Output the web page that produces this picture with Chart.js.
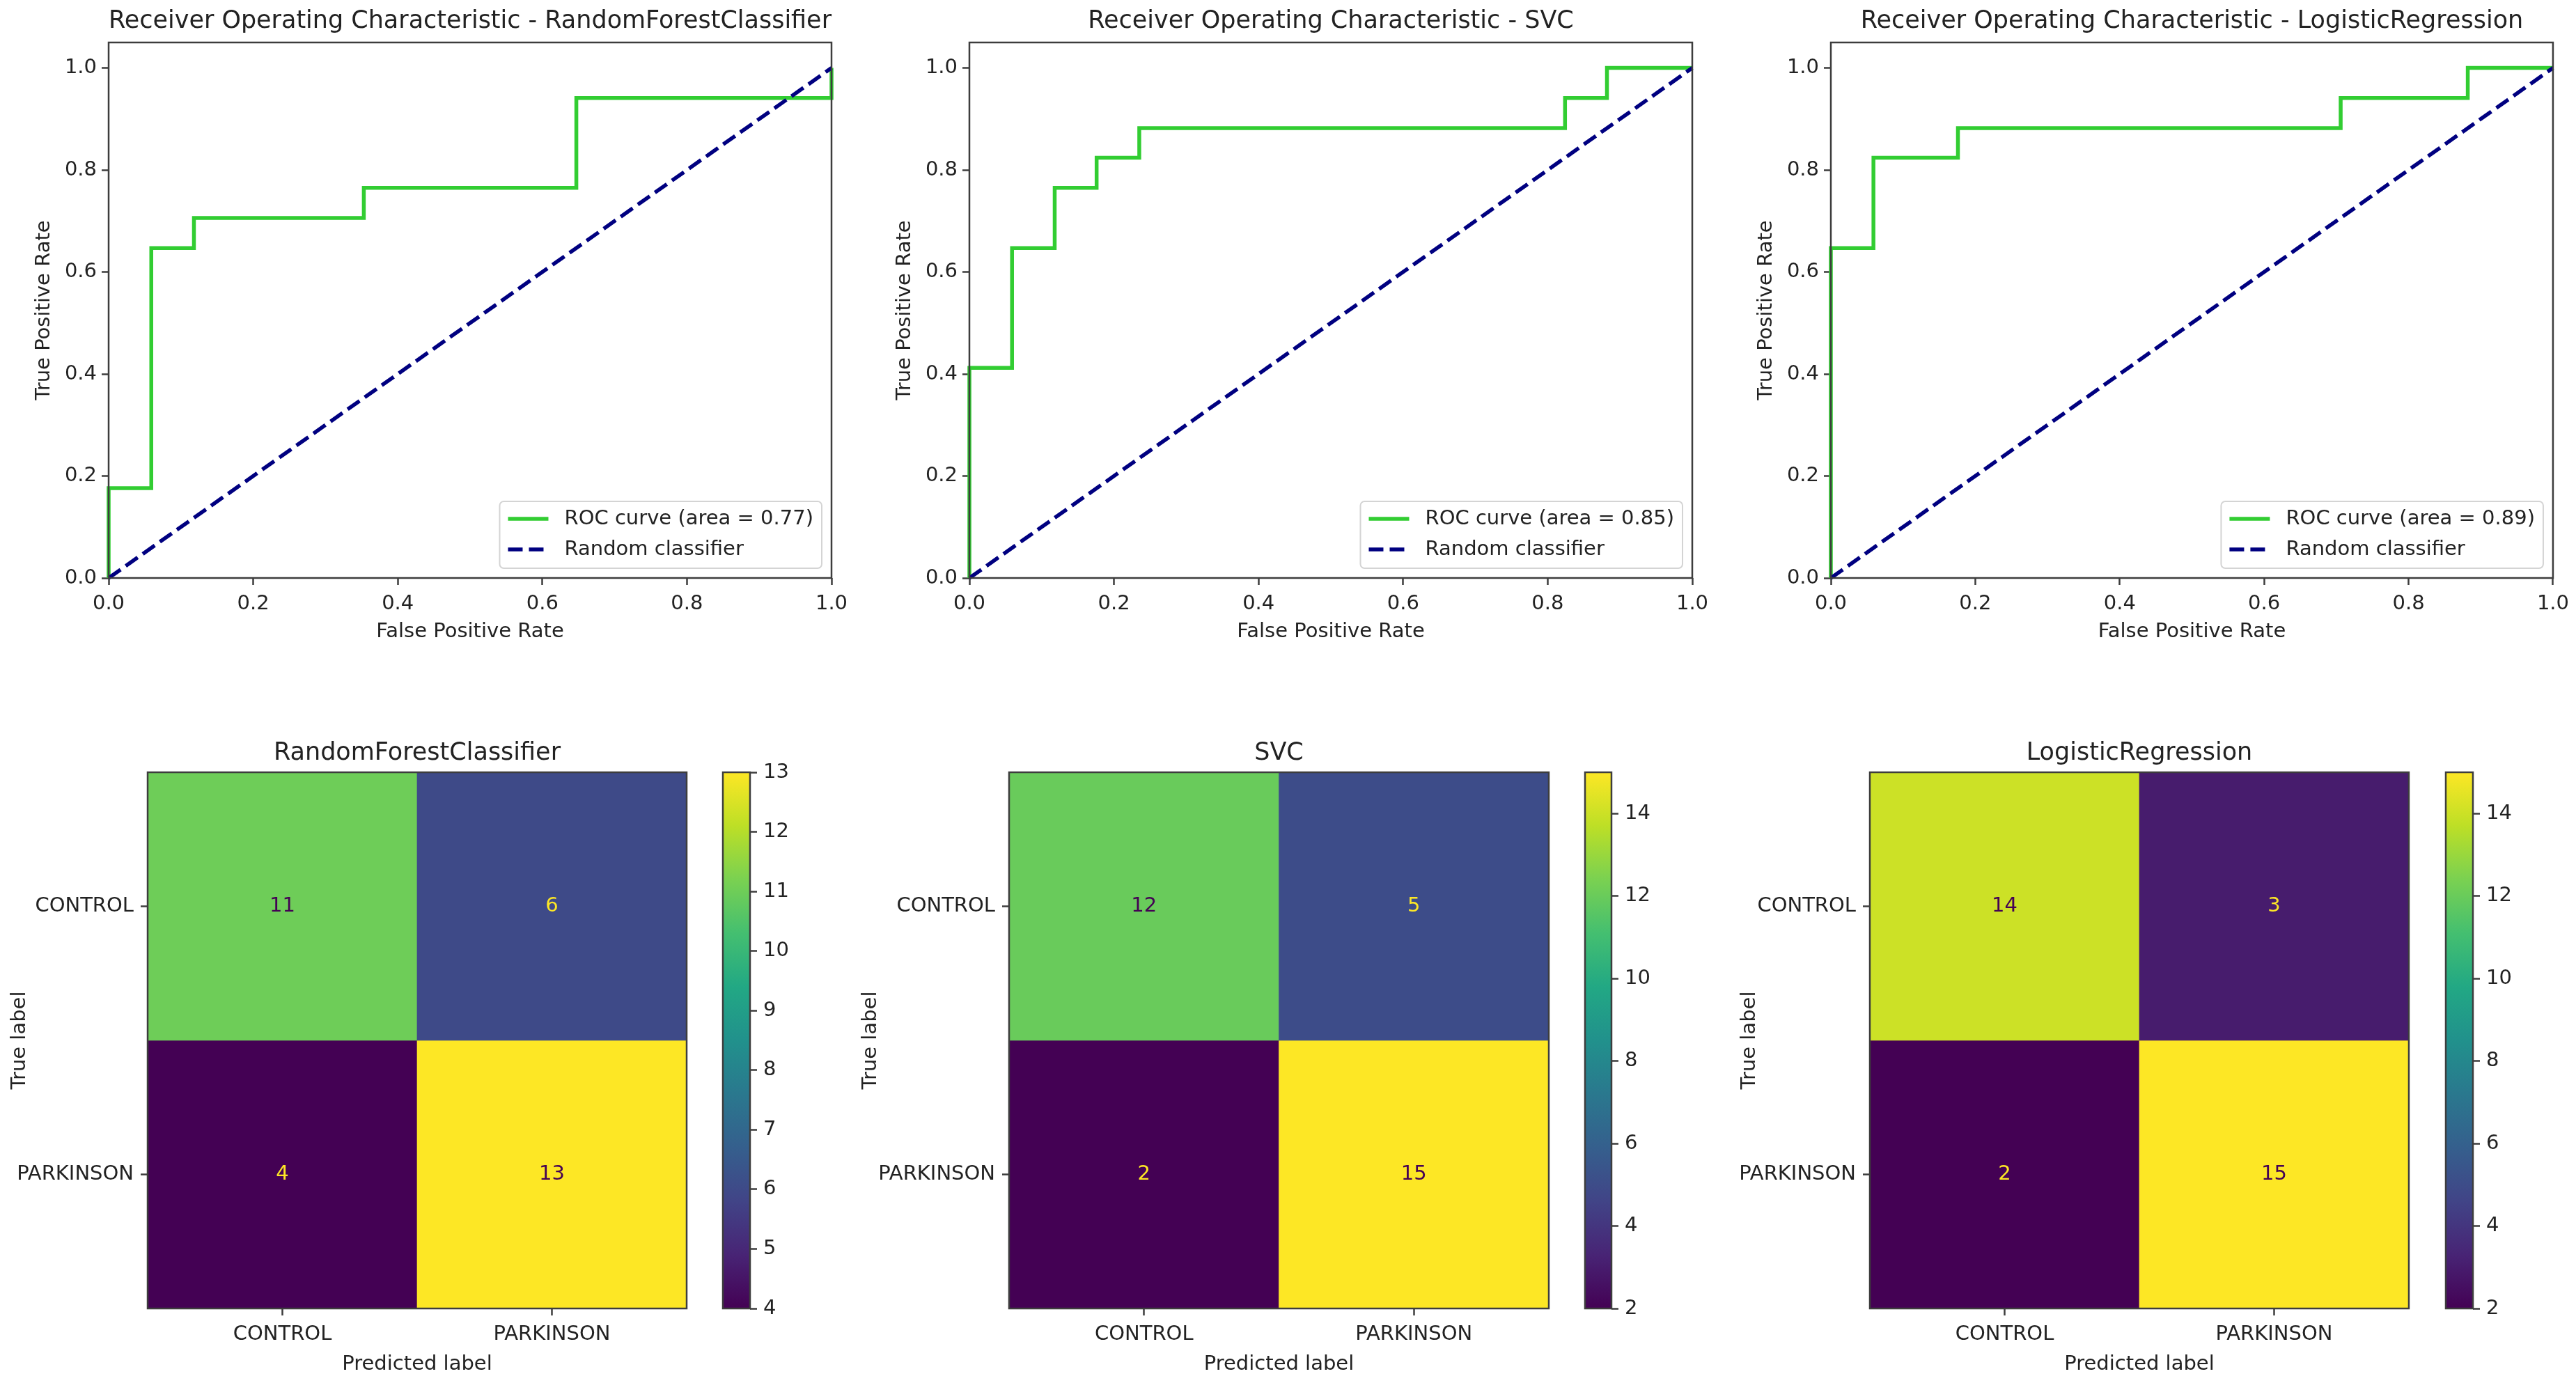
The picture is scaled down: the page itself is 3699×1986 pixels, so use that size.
<!DOCTYPE html>
<html>
<head>
<meta charset="utf-8">
<script src="https://cdn.jsdelivr.net/npm/chart.js@4.4.0/dist/chart.umd.min.js"></script>
<style>
  html, body { margin: 0; padding: 0; background: #fff; overflow: hidden; }
  body { width: 3699px; height: 1986px; position: relative; }
</style>
</head>
<body>
<script>
const classNames = ['CONTROL', 'PARKINSON']
const modelNames = ['RandomForestClassifier', 'SVC', 'LogisticRegression']
const aucValues = [0.77, 0.85, 0.89]

// ROC points (steps of 1/17)
const rfFpr = [0, 0, 0.059, 0.059, 0.118, 0.118, 0.353, 0.353, 0.647, 0.647, 1, 1]
const rfTpr = [0, 0.176, 0.176, 0.647, 0.647, 0.706, 0.706, 0.765, 0.765, 0.941, 0.941, 1]
const svcFpr = [0, 0, 0.059, 0.059, 0.118, 0.118, 0.176, 0.176, 0.235, 0.235, 0.824, 0.824, 0.882, 0.882, 1]
const svcTpr = [0, 0.412, 0.412, 0.647, 0.647, 0.765, 0.765, 0.824, 0.824, 0.882, 0.882, 0.941, 0.941, 1, 1]
const lrFpr = [0, 0, 0.059, 0.059, 0.176, 0.176, 0.706, 0.706, 0.882, 0.882, 1]
const lrTpr = [0, 0.647, 0.647, 0.824, 0.824, 0.882, 0.882, 0.941, 0.941, 1, 1]
const chanceFpr = [0, 1]
const chanceTpr = [0, 1]
const rocTicks = [0, 0.2, 0.4, 0.6, 0.8, 1.0]

// confusion matrices, rows = true label, cols = predicted label
const rfCounts = [[11, 6], [4, 13]]
const svcCounts = [[12, 5], [2, 15]]
const lrCounts = [[14, 3], [2, 15]]
const rfColorTicks = [4, 5, 6, 7, 8, 9, 10, 11, 12, 13]
const svcColorTicks = [2, 4, 6, 8, 10, 12, 14]
const lrColorTicks = [2, 4, 6, 8, 10, 12, 14]

// where the plot boxes sit on the page (px)
const rocFrames = [
  {plotLeft: 156, plotRight: 1194},
  {plotLeft: 1392, plotRight: 2430},
  {plotLeft: 2629, plotRight: 3666}
]
const cmFrames = [
  {labelX: 28, plotLeft: 212, plotRight: 986, barLeft: 1038, barRight: 1077},
  {labelX: 1250, plotLeft: 1449, plotRight: 2224, barLeft: 2276, barRight: 2314},
  {labelX: 2512, plotLeft: 2685, plotRight: 3459, barLeft: 3512, barRight: 3551}
]

const viridisStops = ['#440154', '#482475', '#414487', '#355f8d', '#2a788e', '#21918c',
  '#22a884', '#44bf70', '#7ad151', '#bddf26', '#fde725']
const textColor = '#222222'
const spineColor = '#3d3d3d'

Chart.defaults.font.family = "'DejaVu Sans', sans-serif"
Chart.defaults.font.size = 29
Chart.defaults.color = textColor

function hexToRgb(h) {
  return [1, 3, 5].map(k => parseInt(h.slice(k, k + 2), 16))
}

function viridis(t) {
  t = Math.max(0, Math.min(1, t))
  const p = t * (viridisStops.length - 1)
  const i = Math.min(Math.floor(p), viridisStops.length - 2)
  const f = p - i
  const a = hexToRgb(viridisStops[i])
  const b = hexToRgb(viridisStops[i + 1])
  const c = a.map((v, k) => Math.round(v + (b[k] - v) * f))
  return `rgb(${c[0]}, ${c[1]}, ${c[2]})`
}

function addPanel(left, top, width, height) {
  const box = document.createElement('div')
  box.style.cssText = `position:absolute;left:${left}px;top:${top}px;width:${width}px;height:${height}px`
  const canvas = document.createElement('canvas')
  box.appendChild(canvas)
  document.body.appendChild(box)
  return canvas
}

const frame = {
  id: 'frame',
  afterDatasetsDraw(chart) {
    const {ctx, chartArea: a} = chart
    ctx.save()
    ctx.strokeStyle = spineColor
    ctx.lineWidth = 2.5
    ctx.strokeRect(a.left, a.top, a.right - a.left, a.bottom - a.top)
    ctx.restore()
  }
}

// matplotlib-like legend box in the lower right corner
const rocLegend = {
  id: 'rocLegend',
  afterDatasetsDraw(chart) {
    const {ctx, chartArea: a} = chart
    const sets = chart.data.datasets
    ctx.save()
    ctx.font = "29px 'DejaVu Sans'"
    const textW = Math.max(...sets.map(d => ctx.measureText(d.label).width))
    const pad = 12, handle = 58, gap = 23, rowH = 44
    const w = pad + handle + gap + textW + pad
    const h = 25 + rowH * (sets.length - 1) + 27
    const x = a.right - 14 - w
    const y = a.bottom - 14 - h
    ctx.beginPath()
    ctx.roundRect(x, y, w, h, 6)
    ctx.fillStyle = 'rgba(255, 255, 255, 0.8)'
    ctx.fill()
    ctx.strokeStyle = '#d4d4d4'
    ctx.lineWidth = 2
    ctx.stroke()
    sets.forEach((d, i) => {
      const cy = y + 25 + i * rowH
      ctx.beginPath()
      ctx.setLineDash(d.borderDash || [])
      ctx.strokeStyle = d.borderColor
      ctx.lineWidth = d.borderWidth
      ctx.moveTo(x + pad, cy)
      ctx.lineTo(x + pad + handle, cy)
      ctx.stroke()
      ctx.setLineDash([])
      ctx.fillStyle = textColor
      ctx.textAlign = 'left'
      ctx.textBaseline = 'middle'
      ctx.fillText(d.label, x + pad + handle + gap, cy)
    })
    ctx.restore()
  }
}

const cellText = {
  id: 'cellText',
  afterDatasetsDraw(chart) {
    const {ctx} = chart
    ctx.save()
    ctx.font = "29px 'DejaVu Sans'"
    ctx.textAlign = 'center'
    ctx.textBaseline = 'middle'
    chart.data.datasets.forEach((ds, i) => {
      chart.getDatasetMeta(i).data.forEach((bar, j) => {
        ctx.fillStyle = ds.textColors[j]
        ctx.fillText(String(ds.values[j]), bar.x, (bar.y + bar.base) / 2)
      })
    })
    ctx.restore()
  }
}

function tickMarks(len) {
  return {drawOnChartArea: false, drawTicks: true, tickLength: len, tickWidth: 2.5, tickColor: spineColor}
}

function rocChart(i, fpr, tpr) {
  const f = rocFrames[i]
  const left = f.plotLeft - 156
  const padRight = Math.min(46, 3699 - f.plotRight)
  const canvas = addPanel(left, 0, f.plotRight - left + padRight, 940)

  new Chart(canvas, {
    type: 'scatter',
    data: {
      datasets: [
        {
          label: `ROC curve (area = ${aucValues[i].toFixed(2)})`,
          data: fpr.map((x, k) => ({x: x, y: tpr[k]})),
          showLine: true,
          borderColor: '#32cd32',
          backgroundColor: '#32cd32',
          borderWidth: 5.5,
          pointRadius: 0,
          order: 1,
          clip: 10
        },
        {
          label: 'Random classifier',
          data: chanceFpr.map((x, k) => ({x: x, y: chanceTpr[k]})),
          showLine: true,
          borderColor: '#000080',
          backgroundColor: '#000080',
          borderWidth: 5.5,
          borderDash: [21, 9],
          pointRadius: 0,
          order: 0,
          clip: 10
        }
      ]
    },
    options: {
      animation: false,
      responsive: true,
      maintainAspectRatio: false,
      events: [],
      layout: {padding: {right: padRight}},
      plugins: {
        legend: {display: false},
        tooltip: {enabled: false},
        title: {
          display: true,
          fullSize: false,
          text: 'Receiver Operating Characteristic - ' + modelNames[i],
          font: {size: 35, weight: 'normal'},
          padding: {top: 10, bottom: 9}
        }
      },
      scales: {
        x: {
          type: 'linear',
          min: 0,
          max: 1,
          afterBuildTicks: s => { s.ticks = rocTicks.map(v => ({value: v})) },
          afterFit: s => { s.height = 110 },
          ticks: {callback: v => Number(v).toFixed(1), padding: 10, maxRotation: 0, autoSkip: false},
          grid: tickMarks(10),
          border: {display: false},
          title: {display: true, text: 'False Positive Rate', padding: {top: 0, bottom: 15}}
        },
        y: {
          type: 'linear',
          min: 0,
          max: 1.05,
          afterBuildTicks: s => { s.ticks = rocTicks.map(v => ({value: v})) },
          afterFit: s => { s.width = 156 },
          ticks: {callback: v => Number(v).toFixed(1), padding: 7, autoSkip: false},
          grid: tickMarks(10),
          border: {display: false},
          title: {display: true, text: 'True Positive Rate', padding: {top: 46, bottom: 0}}
        }
      }
    },
    plugins: [frame, rocLegend]
  })
}

function colorbarFill(chart, vmin, vmax) {
  const y = chart.scales.y
  if (!y) return viridisStops[5]
  const y0 = y.getPixelForValue(vmin)
  const y1 = y.getPixelForValue(vmax)
  if (!isFinite(y0) || !isFinite(y1) || y0 === y1) return viridisStops[5]
  const g = chart.ctx.createLinearGradient(0, y0, 0, y1)
  viridisStops.forEach((c, k) => g.addColorStop(k / (viridisStops.length - 1), c))
  return g
}

function matrixChart(i, counts, colorTicks) {
  const f = cmFrames[i]
  const flat = counts.flat()
  const vmin = Math.min(...flat)
  const vmax = Math.max(...flat)
  const left = f.labelX - 28
  const canvas = addPanel(left, 1030, f.plotRight + 24 - left, 956)
  const yAxisW = f.plotLeft - left

  new Chart(canvas, {
    type: 'bar',
    data: {
      labels: classNames,
      datasets: counts.map((row, r) => ({
        label: classNames[r],
        data: row.map(() => [r, r + 1]),
        values: row,
        backgroundColor: row.map(v => viridis((v - vmin) / (vmax - vmin))),
        textColors: row.map(v => v > (vmin + vmax) / 2 ? viridisStops[0] : viridisStops[viridisStops.length - 1]),
        borderWidth: 0,
        grouped: false,
        categoryPercentage: 1,
        barPercentage: 1
      }))
    },
    options: {
      animation: false,
      responsive: true,
      maintainAspectRatio: false,
      events: [],
      layout: {padding: {right: 24}},
      plugins: {
        legend: {display: false},
        tooltip: {enabled: false},
        title: {
          display: true,
          fullSize: false,
          text: modelNames[i],
          font: {size: 35, weight: 'normal'},
          padding: {top: 31, bottom: 6}
        }
      },
      scales: {
        x: {
          type: 'category',
          afterFit: s => { s.height = 107 },
          ticks: {padding: 10, maxRotation: 0, autoSkip: false},
          grid: Object.assign(tickMarks(10), {offset: false}),
          border: {display: false},
          title: {display: true, text: 'Predicted label', padding: {top: 0, bottom: 9}}
        },
        y: {
          type: 'linear',
          min: 0,
          max: classNames.length,
          reverse: true,
          afterBuildTicks: s => { s.ticks = classNames.map((c, k) => ({value: k + 0.5})) },
          afterFit: s => { s.width = yAxisW },
          ticks: {callback: v => classNames[Math.floor(v)], padding: 10, autoSkip: false},
          grid: tickMarks(10),
          border: {display: false},
          title: {display: true, text: 'True label', padding: {top: 11, bottom: 0}}
        }
      }
    },
    plugins: [cellText, frame]
  })

  // colour bar next to the matrix
  const barCanvas = addPanel(f.barLeft - 10, 1030, 10 + f.barRight - f.barLeft + 80, 956)
  new Chart(barCanvas, {
    type: 'bar',
    data: {
      labels: [''],
      datasets: [{
        data: [[vmin, vmax]],
        backgroundColor: c => colorbarFill(c.chart, vmin, vmax),
        borderWidth: 0,
        categoryPercentage: 1,
        barPercentage: 1
      }]
    },
    options: {
      animation: false,
      responsive: true,
      maintainAspectRatio: false,
      events: [],
      layout: {padding: {left: 10, top: 79, bottom: 107}},
      plugins: {legend: {display: false}, tooltip: {enabled: false}},
      scales: {
        x: {display: false},
        y: {
          position: 'right',
          min: vmin,
          max: vmax,
          afterBuildTicks: s => { s.ticks = colorTicks.map(v => ({value: v})) },
          afterFit: s => { s.width = 80 },
          ticks: {padding: 9, autoSkip: false},
          grid: tickMarks(10),
          border: {display: false}
        }
      }
    },
    plugins: [frame]
  })
}

rocChart(0, rfFpr, rfTpr)
rocChart(1, svcFpr, svcTpr)
rocChart(2, lrFpr, lrTpr)
matrixChart(0, rfCounts, rfColorTicks)
matrixChart(1, svcCounts, svcColorTicks)
matrixChart(2, lrCounts, lrColorTicks)
</script>
</body>
</html>
